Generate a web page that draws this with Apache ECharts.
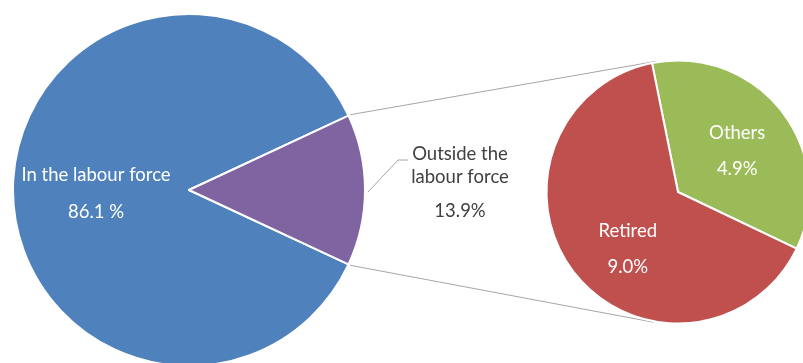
<!DOCTYPE html>
<html>
<head>
<meta charset="utf-8">
<script src="https://cdn.jsdelivr.net/npm/echarts@6/dist/echarts.min.js"></script>
<style>
  html, body { margin: 0; padding: 0; background: #ffffff; }
  #chart { width: 803px; height: 363px; }
</style>
</head>
<body>
<div id="chart"></div>
<script>
// Population by labour force status (%)
const bigNames = ['In the labour force', 'Outside the labour force'];
const bigValues = [86.1, 13.9];
const bigColors = ['#4f81bd', '#8064a2'];

// Breakdown of those outside the labour force (%)
const smallNames = ['Others', 'Retired'];
const smallValues = [4.9, 9.0];
const smallColors = ['#9bbb59', '#c0504d'];

// Pie geometry (pixels)
const BIG = { cx: 189, cy: 190, r: 176 };
const SMALL = { cx: 678, cy: 192, r: 131.5, start: 101.4 };

const FONT = 'Lato, "Open Sans", sans-serif';
const FS = 18.5;
const DARK = '#404040';

const bigTotal = bigValues.reduce((a, b) => a + b, 0);
const halfExploded = bigValues[1] / bigTotal * 180;   // half-angle of the split slice

// Series lines: from the split slice's corners, tangent to the secondary pie
function tangentPoint(P, C, r, sign) {
  const dx = C[0] - P[0], dy = C[1] - P[1];
  const d = Math.hypot(dx, dy);
  const a = Math.asin(r / d) * sign;
  const L = Math.sqrt(d * d - r * r);
  const ux = dx / d, uy = dy / d;
  const rx = ux * Math.cos(a) - uy * Math.sin(a);
  const ry = ux * Math.sin(a) + uy * Math.cos(a);
  return [P[0] + L * rx, P[1] + L * ry];
}
const rad = halfExploded * Math.PI / 180;
const cornerR = BIG.r + 2;
const pTop = [BIG.cx + cornerR * Math.cos(rad), BIG.cy - cornerR * Math.sin(rad)];
const pBot = [BIG.cx + cornerR * Math.cos(rad), BIG.cy + cornerR * Math.sin(rad)];
const C = [SMALL.cx, SMALL.cy];
const tTop = tangentPoint(pTop, C, SMALL.r + 1, -1);
const tBot = tangentPoint(pBot, C, SMALL.r + 1, 1);

// Callout for the split slice, right of the big pie
const callout = { x: BIG.cx + BIG.r + 95, y: BIG.cy - 2 };
const leader = [
  [BIG.cx + BIG.r + 3, BIG.cy + 2],
  [BIG.cx + BIG.r + 33, BIG.cy - 30],
  [BIG.cx + BIG.r + 43, BIG.cy - 30]
];
const calloutText = bigNames[1].replace(' labour', '\nlabour').split('\n')
  .map(s => '{n|' + s + '}').join('\n') + '\n{v|' + bigValues[1].toFixed(1) + '%}';

const lineStyle = { stroke: '#a6a6a6', lineWidth: 1, fill: null };

// Inside labels: two lines spaced `gap` apart, shifted by (dx, dy) from the slice centroid.
// Unequal line heights move the pair vertically; side padding moves it horizontally.
function insideLabel(gap, dx, dy, valueSuffix) {
  return {
    position: 'inside',
    color: '#ffffff',
    fontFamily: FONT,
    fontSize: FS,
    padding: dx >= 0 ? [0, 0, 0, 2 * dx] : [0, -2 * dx, 0, 0],
    formatter: p => '{a|' + p.name + '}\n{b|' + p.value.toFixed(1) + valueSuffix + '}',
    rich: {
      a: { color: '#ffffff', fontFamily: FONT, fontSize: FS, lineHeight: gap + 2 * dy },
      b: { color: '#ffffff', fontFamily: FONT, fontSize: FS, lineHeight: gap - 2 * dy }
    }
  };
}
const smallShift = [[5, 1], [4, 15]];

const chart = echarts.init(document.getElementById('chart'), null, { renderer: 'canvas' });

chart.setOption({
  animation: false,
  backgroundColor: '#ffffff',
  graphic: [
    { type: 'line', silent: true, z: 1, shape: { x1: pTop[0], y1: pTop[1], x2: tTop[0], y2: tTop[1] }, style: lineStyle },
    { type: 'line', silent: true, z: 1, shape: { x1: pBot[0], y1: pBot[1], x2: tBot[0], y2: tBot[1] }, style: lineStyle },
    { type: 'polyline', silent: true, z: 1, shape: { points: leader }, style: lineStyle },
    {
      type: 'text', silent: true, z: 10,
      x: callout.x, y: callout.y,
      style: {
        text: calloutText,
        align: 'center',
        verticalAlign: 'middle',
        fill: DARK,
        font: FS + 'px ' + FONT,
        rich: {
          n: { fill: DARK, fontFamily: FONT, fontSize: FS, lineHeight: 23, align: 'center' },
          v: { fill: DARK, fontFamily: FONT, fontSize: FS, lineHeight: 45, align: 'center' }
        }
      }
    }
  ],
  series: [
    {
      type: 'pie',
      center: [BIG.cx, BIG.cy],
      radius: BIG.r,
      startAngle: 360 - halfExploded,
      clockwise: true,
      avoidLabelOverlap: false,
      silent: true,
      itemStyle: { borderColor: '#ffffff', borderWidth: 2 },
      labelLine: { show: false },
      data: bigNames.map((n, i) => ({
        name: n,
        value: bigValues[i],
        itemStyle: { color: bigColors[i] },
        label: i === 0 ? insideLabel(37, -2, 4, ' %') : { show: false }
      }))
    },
    {
      type: 'pie',
      center: [SMALL.cx, SMALL.cy],
      radius: SMALL.r,
      startAngle: SMALL.start,
      clockwise: true,
      avoidLabelOverlap: false,
      silent: true,
      itemStyle: { borderColor: '#ffffff', borderWidth: 2 },
      labelLine: { show: false },
      data: smallNames.map((n, i) => ({
        name: n,
        value: smallValues[i],
        itemStyle: { color: smallColors[i] },
        label: insideLabel(36, smallShift[i][0], smallShift[i][1], '%')
      }))
    }
  ]
});
</script>
</body>
</html>
